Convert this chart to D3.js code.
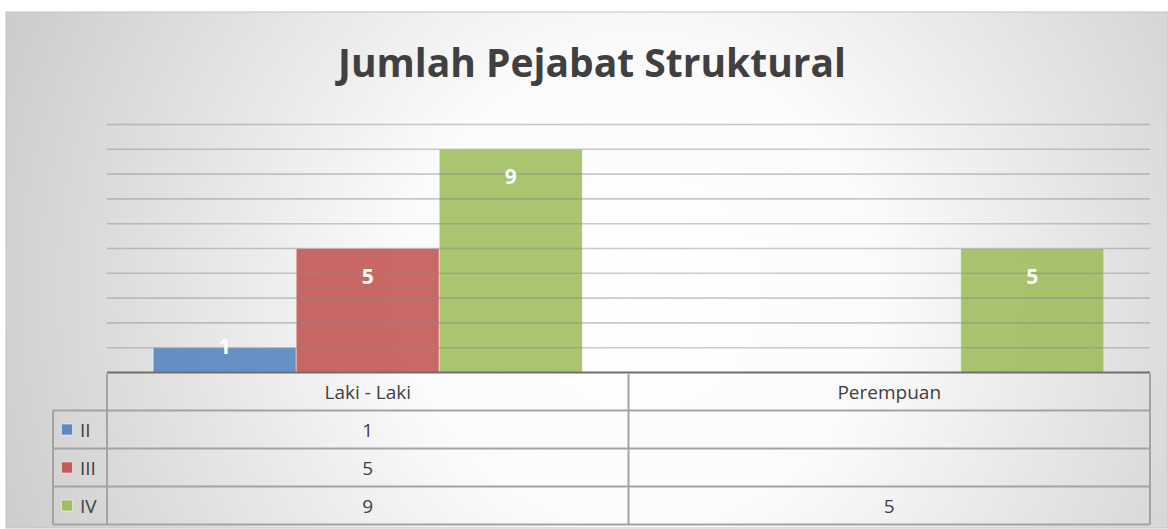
<!DOCTYPE html>
<html>
<head>
<meta charset="utf-8">
<script src="https://cdn.jsdelivr.net/npm/d3@7"></script>
<style>
  body { margin: 0; background: #fff; }
  svg { display: block; }
</style>
</head>
<body>
<div id="chart"></div>
<script>
// data
let categories = ["Laki - Laki", "Perempuan"];
let seriesNames = ["II", "III", "IV"];
let seriesColors = ["#4f81bd", "#c0504d", "#9bbb59"];
let valuesII = [1, null];
let valuesIII = [5, null];
let valuesIV = [9, 5];
let yTicks = [1, 2, 3, 4, 5, 6, 7, 8, 9, 10];
let title = "Jumlah Pejabat Struktural";

let seriesValues = [valuesII, valuesIII, valuesIV];

let width = 1168, height = 529;
let svg = d3.select("#chart").append("svg")
    .attr("width", width)
    .attr("height", height);

// background gradient
let defs = svg.append("defs");
let grad = defs.append("radialGradient")
    .attr("id", "bg")
    .attr("gradientUnits", "userSpaceOnUse")
    .attr("cx", 640).attr("cy", 290).attr("r", 800);
grad.append("stop").attr("offset", "0").attr("stop-color", "#ffffff");
grad.append("stop").attr("offset", "0.3").attr("stop-color", "#fbfbfb");
grad.append("stop").attr("offset", "1").attr("stop-color", "#c0c0c0");

svg.append("rect")
    .attr("x", 6).attr("y", 12)
    .attr("width", width - 6).attr("height", 516)
    .attr("fill", "url(#bg)")
    .attr("stroke", "#c4c4c4")
    .attr("stroke-width", 1);

let font = "'Open Sans', sans-serif";

// title
svg.append("text")
    .attr("x", 592).attr("y", 77)
    .attr("text-anchor", "middle")
    .attr("font-family", font)
    .attr("font-weight", "bold")
    .attr("font-size", 39)
    .attr("fill", "#404040")
    .text(title);

// scales
let plotLeft = 107, plotRight = 1150;
let x = d3.scaleBand()
    .domain(categories)
    .range([plotLeft, plotRight])
    .padding(0);

let xSub = d3.scaleBand()
    .domain(seriesNames)
    .range([0, x.bandwidth()])
    .paddingInner(0)
    .paddingOuter(0.323);

let y = d3.scaleLinear()
    .domain([0, 10])
    .range([372.5, 124.5]);

// bars
let barData = [];
seriesNames.forEach(function (s, i) {
    categories.forEach(function (c, j) {
        if (seriesValues[i][j] != null) {
            barData.push({series: s, cat: c, value: seriesValues[i][j], color: seriesColors[i]});
        }
    });
});

svg.append("g").selectAll("rect")
    .data(barData)
    .enter().append("rect")
    .attr("x", d => x(d.cat) + xSub(d.series))
    .attr("y", d => y(d.value))
    .attr("width", xSub.bandwidth())
    .attr("height", d => y(0) - y(d.value))
    .attr("fill", d => d.color)
    .attr("fill-opacity", 0.86)
    .attr("stroke", "#ffffff")
    .attr("stroke-opacity", 0.45)
    .attr("stroke-width", 1);

// gridlines (drawn over the semi transparent bars, like Excel shows them)
svg.append("g").selectAll("line")
    .data(yTicks)
    .enter().append("line")
    .attr("x1", plotLeft).attr("x2", plotRight)
    .attr("y1", d => y(d)).attr("y2", d => y(d))
    .attr("stroke", "#8a8a8a")
    .attr("stroke-opacity", 0.45)
    .attr("stroke-width", 1.6);

// data labels
svg.append("g").selectAll("text")
    .data(barData)
    .enter().append("text")
    .attr("x", d => x(d.cat) + xSub(d.series) + xSub.bandwidth() / 2)
    .attr("y", function (d) {
        let h = y(0) - y(d.value);
        return y(d.value) + (h > 50 ? 35 : 6);
    })
    .attr("text-anchor", "middle")
    .attr("font-family", font)
    .attr("font-weight", "bold")
    .attr("font-size", 21)
    .attr("fill", "#ffffff")
    .text(d => d.value);

// data table
let rows = ["header"].concat(seriesNames);
let rowY = d3.scaleBand()
    .domain(rows)
    .range([372.5, 524.5]);
let legendLeft = 53;
let tableColor = "#a3a3a3";

let table = svg.append("g");

// axis line
table.append("line")
    .attr("x1", plotLeft).attr("x2", plotRight)
    .attr("y1", y(0)).attr("y2", y(0))
    .attr("stroke", "#6e6e6e").attr("stroke-width", 2);

// horizontal lines
rows.forEach(function (r, i) {
    if (i === 0) return;
    table.append("line")
        .attr("x1", legendLeft).attr("x2", plotRight)
        .attr("y1", rowY(r)).attr("y2", rowY(r))
        .attr("stroke", tableColor).attr("stroke-width", 2);
});
table.append("line")
    .attr("x1", legendLeft).attr("x2", plotRight)
    .attr("y1", rowY.range()[1]).attr("y2", rowY.range()[1])
    .attr("stroke", tableColor).attr("stroke-width", 2);

// vertical lines
table.append("line")
    .attr("x1", legendLeft).attr("x2", legendLeft)
    .attr("y1", rowY(seriesNames[0])).attr("y2", rowY.range()[1])
    .attr("stroke", tableColor).attr("stroke-width", 2);
[plotLeft, x(categories[1]), plotRight].forEach(function (xx) {
    table.append("line")
        .attr("x1", xx).attr("x2", xx)
        .attr("y1", y(0) + 1).attr("y2", rowY.range()[1])
        .attr("stroke", tableColor).attr("stroke-width", 2);
});

// header text
table.selectAll(".cat")
    .data(categories)
    .enter().append("text")
    .attr("x", d => x(d) + x.bandwidth() / 2)
    .attr("y", rowY("header") + rowY.bandwidth() / 2 + 7)
    .attr("text-anchor", "middle")
    .attr("font-family", font)
    .attr("font-size", 19)
    .attr("fill", "#404040")
    .text(d => d);

// legend keys + values
seriesNames.forEach(function (s, i) {
    let cy = rowY(s) + rowY.bandwidth() / 2;
    table.append("rect")
        .attr("x", 61.5).attr("y", cy - 5.5)
        .attr("width", 11).attr("height", 11)
        .attr("fill", seriesColors[i])
        .attr("fill-opacity", 0.9)
        .attr("stroke", "#ffffff").attr("stroke-opacity", 0.5);
    table.append("text")
        .attr("x", 80).attr("y", cy + 7)
        .attr("font-family", font)
        .attr("font-size", 19)
        .attr("fill", "#404040")
        .text(s);
    categories.forEach(function (c, j) {
        let v = seriesValues[i][j];
        if (v == null) return;
        table.append("text")
            .attr("x", x(c) + x.bandwidth() / 2)
            .attr("y", cy + 7)
            .attr("text-anchor", "middle")
            .attr("font-family", font)
            .attr("font-size", 19)
            .attr("fill", "#404040")
            .text(v);
    });
});
</script>
</body>
</html>
